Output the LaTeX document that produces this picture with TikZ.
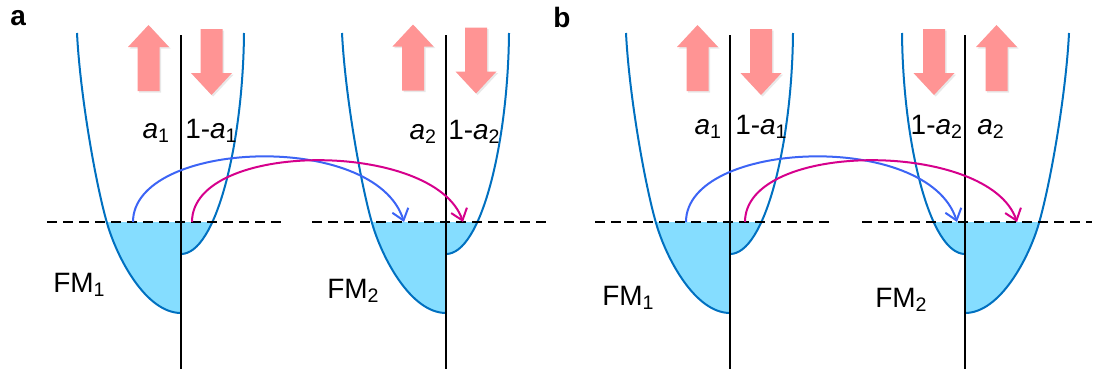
\documentclass[tikz,border=0pt]{standalone}
\usepackage{fontspec}
\setmainfont{Liberation Sans}
\usetikzlibrary{arrows.meta, shadows}
\definecolor{bandBlue}{RGB}{0,112,192}
\definecolor{seaFill}{RGB}{133,221,255}
\definecolor{hopBlue}{RGB}{60,100,245}
\definecolor{hopPink}{RGB}{214,0,140}
\definecolor{spinPink}{RGB}{255,148,148}
\newcommand{\spinfrac}[1]{\textit{a}\textsubscript{#1}}

\begin{document}
\begin{tikzpicture}[x=0.75pt, y=-0.75pt,
  band/.style={draw=bandBlue, line width=1.5pt},
  axis/.style={black, line width=1pt},
  fermi/.style={black, line width=1.5pt, dash pattern=on 7.5pt off 4.5pt},
  hop/.style={line width=1.5pt, -{Straight Barb[length=8pt, width=12.5pt]}},
  lbl/.style={inner sep=0pt, font=\fontsize{21}{25}\selectfont},
  spin/.style={fill=spinPink, draw=none,
    drop shadow={opacity=0.18, shadow xshift=1.2pt, shadow yshift=-1.2pt}},
  spin up/.pic={
    \path[spin] (0,-33) -- (20.5,-11) -- (11,-11) -- (11,33) -- (-11,33)
      -- (-11,-11) -- (-20.5,-11) -- cycle;
  },
  spin down/.pic={
    \path[spin] (0,33) -- (20.5,11) -- (11,11) -- (11,-33) -- (-11,-33)
      -- (-11,11) -- (-20.5,11) -- cycle;
  },
]
\useasboundingbox (0,0) rectangle (1094,371);

%% Bands (filled below the Fermi level) and spin axes
\foreach \ax/\fl in {181/1, 446/1, 730/1, 965/-1}{
  \begin{scope}[shift={(\ax,0)}, xscale=\fl]
    \begin{scope}
      \clip (-112,222) rectangle (70,320);
      \fill[seaFill] (0,313) .. controls (-35,313) and (-64,258) .. (-74,223)
        .. controls (-86,181) and (-101,93) .. (-104,33) -- (0,33) -- cycle;
      \fill[seaFill] (0,254) .. controls (35,254) and (62,144) .. (63,33)
        -- (0,33) -- cycle;
    \end{scope}
    \draw[band] (0,313) .. controls (-35,313) and (-64,258) .. (-74,223)
      .. controls (-86,181) and (-101,93) .. (-104,33);
    \draw[band] (0,254) .. controls (35,254) and (62,144) .. (63,33);
  \end{scope}
  \draw[axis] (\ax,35) -- (\ax,369);
}

%% Fermi levels
\foreach \xa/\xb in {47/285, 312/549, 595/835, 862/1092}{
  \draw[fermi] (\xa,222) -- (\xb,222);
}

%% Spin arrows
\foreach \sx/\sy/\kind in {148.5/58/up, 211.5/62/down, 413/57.5/up, 476/60.5/down,
  697.5/58/up, 761/62/down, 934/62/down, 996.5/58/up}{
  \pic at (\sx,\sy) {spin \kind};
}

%% Panel letters
\node[lbl, anchor=base west, font=\fontsize{21}{25}\selectfont\bfseries] (pa) at (10,25) {a};
\node[lbl, anchor=base west, font=\fontsize{21}{25}\selectfont\bfseries] (pb) at (553,27) {b};

%% Spin fractions
\node[lbl, anchor=base east] (fa1) at (170,138) {\spinfrac{1}};
\node[lbl, anchor=base west] (ga1) at (185,138) {1-\spinfrac{1}};
\node[lbl, anchor=base east] (fa2) at (437,139) {\spinfrac{2}};
\node[lbl, anchor=base west] (ga2) at (448,139) {1-\spinfrac{2}};
\node[lbl, anchor=base east] (fb1) at (722,134) {\spinfrac{1}};
\node[lbl, anchor=base west] (gb1) at (735,134) {1-\spinfrac{1}};
\node[lbl, anchor=base east] (gb2) at (963,134) {1-\spinfrac{2}};
\node[lbl, anchor=base west] (fb2) at (977,134) {\spinfrac{2}};

%% Ferromagnets
\node[lbl, anchor=base west] (fma1) at (53,292) {FM\textsubscript{1}};
\node[lbl, anchor=base west] (fma2) at (327,298) {FM\textsubscript{2}};
\node[lbl, anchor=base west] (fmb1) at (602,305) {FM\textsubscript{1}};
\node[lbl, anchor=base west] (fmb2) at (875,307) {FM\textsubscript{2}};

%% Tunnelling hops
\coordinate (blueA0) at (133,222);  \coordinate (blueA1) at (404,222);
\coordinate (pinkA0) at (192,222);  \coordinate (pinkA1) at (463,222);
\coordinate (blueB0) at (686,222);  \coordinate (blueB1) at (957,222);
\coordinate (pinkB0) at (745,222);  \coordinate (pinkB1) at (1017,222);
\foreach \p in {A, B}{
  \draw[hop, hopBlue] (blue\p0) .. controls +(0,-82) and +(-29,-92) .. (blue\p1);
  \draw[hop, hopPink] (pink\p0) .. controls +(0,-82) and +(-28,-82) .. (pink\p1);
}
\end{tikzpicture}
\end{document}
